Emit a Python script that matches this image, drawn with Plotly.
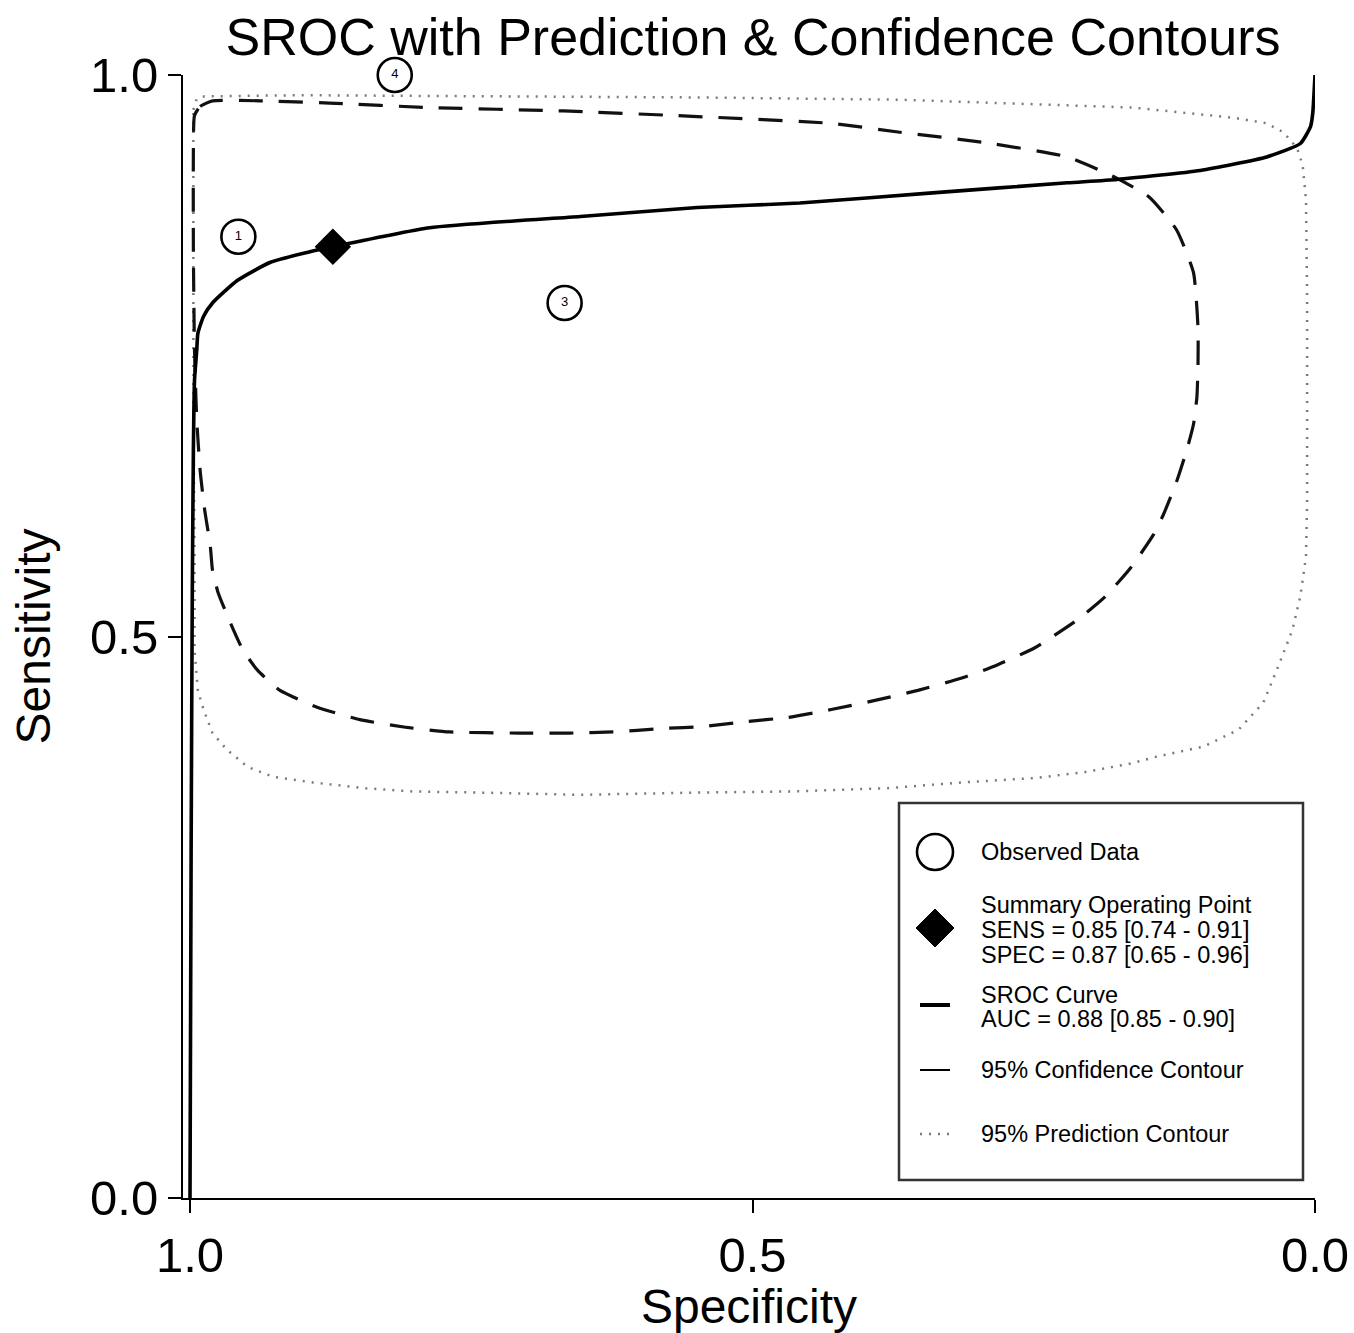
import plotly.graph_objects as go

# ---------------- data ----------------
sroc_spec = [0.000, 0.002, 0.004, 0.013, 0.043, 0.102, 0.176, 0.220, 0.340, 0.458,
             0.549, 0.653, 0.787, 0.873, 0.900, 0.929, 0.958, 0.980, 0.988, 0.993,
             0.994, 0.996, 0.997, 0.998, 0.999, 1.000]
sroc_sens = [1.000, 0.966, 0.954, 0.939, 0.927, 0.915, 0.907, 0.904, 0.895, 0.886,
             0.882, 0.874, 0.864, 0.847, 0.841, 0.833, 0.817, 0.797, 0.785, 0.770,
             0.755, 0.728, 0.666, 0.532, 0.310, 0.000]

conf_spec = [0.996, 0.991, 0.980, 0.938, 0.876, 0.787, 0.668, 0.549, 0.431, 0.369,
             0.295, 0.220, 0.176, 0.147, 0.123, 0.108, 0.104, 0.104, 0.105, 0.108,
             0.114, 0.123, 0.135, 0.144, 0.164, 0.187, 0.211, 0.249, 0.284, 0.314,
             0.353, 0.396, 0.430, 0.468, 0.508, 0.542, 0.581, 0.624, 0.663, 0.707,
             0.769, 0.807, 0.849, 0.887, 0.920, 0.940, 0.953, 0.964, 0.975, 0.980,
             0.982, 0.987, 0.991, 0.994, 0.996, 0.997, 0.997, 0.996]
conf_sens = [0.964, 0.972, 0.977, 0.977, 0.975, 0.971, 0.968, 0.963, 0.957, 0.949,
             0.940, 0.927, 0.908, 0.891, 0.862, 0.824, 0.775, 0.741, 0.713, 0.689,
             0.666, 0.638, 0.608, 0.590, 0.561, 0.535, 0.515, 0.490, 0.474, 0.463,
             0.452, 0.442, 0.435, 0.428, 0.424, 0.420, 0.418, 0.415, 0.414, 0.414,
             0.415, 0.419, 0.426, 0.437, 0.452, 0.470, 0.488, 0.512, 0.539, 0.559,
             0.581, 0.613, 0.648, 0.693, 0.755, 0.844, 0.933, 0.964]

pred_spec = [0.997, 0.994, 0.987, 0.902, 0.724, 0.547, 0.369, 0.280, 0.162, 0.073,
             0.043, 0.028, 0.016, 0.011, 0.008, 0.007, 0.007, 0.007, 0.008, 0.013,
             0.020, 0.034, 0.046, 0.068, 0.099, 0.141, 0.163, 0.206, 0.249, 0.314,
             0.379, 0.465, 0.551, 0.653, 0.742, 0.802, 0.846, 0.891, 0.926, 0.949,
             0.967, 0.980, 0.988, 0.993, 0.996, 0.996, 0.997, 0.997, 0.997]
pred_sens = [0.969, 0.979, 0.981, 0.982, 0.981, 0.980, 0.978, 0.975, 0.971, 0.962,
             0.957, 0.949, 0.935, 0.920, 0.889, 0.800, 0.711, 0.622, 0.571, 0.536,
             0.506, 0.470, 0.441, 0.417, 0.402, 0.393, 0.387, 0.379, 0.374, 0.370,
             0.365, 0.362, 0.361, 0.359, 0.361, 0.362, 0.365, 0.370, 0.375, 0.384,
             0.399, 0.414, 0.435, 0.452, 0.488, 0.577, 0.711, 0.844, 0.969]

obs_spec = [0.957, 0.667, 0.818]
obs_sens = [0.856, 0.797, 1.000]
obs_labels = ["1", "3", "4"]

summary_spec = [0.873]
summary_sens = [0.847]

tick_vals = [0.0, 0.5, 1.0]
tick_text = ["0.0", "0.5", "1.0"]

title_text = "SROC with Prediction &amp; Confidence Contours"
legend_observed = "Observed Data"
legend_summary = ["Summary Operating Point", "SENS = 0.85 [0.74 - 0.91]", "SPEC = 0.87 [0.65 - 0.96]"]
legend_sroc = ["SROC Curve", "AUC = 0.88 [0.85 - 0.90]"]
legend_conf = "95% Confidence Contour"
legend_pred = "95% Prediction Contour"

# ---------------- layout geometry ----------------
W, H = 1354, 1333
ML, MR, MT, MB = 183, 39, 75, 135
PW, PH = W - ML - MR, H - MT - MB
FONT = "Liberation Sans, Arial, Helvetica, sans-serif"
DOT = "2px,7px"
PRED_COLOR = "#7a7a7a"


def PX(p):
    return (p - ML) / PW


def PY(p):
    return (H - MB - p) / PH


fig = go.Figure()

fig.add_trace(go.Scatter(x=pred_spec, y=pred_sens, mode="lines",
                         line=dict(color=PRED_COLOR, width=2.5, dash=DOT),
                         showlegend=False, hoverinfo="skip"))
fig.add_trace(go.Scatter(x=conf_spec, y=conf_sens, mode="lines",
                         line=dict(color="#111111", width=3.2, dash="24px,16px", shape="spline", smoothing=0.5),
                         showlegend=False, hoverinfo="skip"))
fig.add_trace(go.Scatter(x=sroc_spec, y=sroc_sens, mode="lines",
                         line=dict(color="#000000", width=3.6, shape="spline", smoothing=0.5),
                         showlegend=False))
fig.add_trace(go.Scatter(x=obs_spec, y=obs_sens, mode="markers+text", text=obs_labels,
                         textposition="middle center",
                         textfont=dict(size=13, color="#000000", family=FONT),
                         marker=dict(symbol="circle-open", size=34, color="#000000",
                                     line=dict(width=2.6, color="#000000")),
                         cliponaxis=False, showlegend=False))
fig.add_trace(go.Scatter(x=summary_spec, y=summary_sens, mode="markers",
                         marker=dict(symbol="diamond", size=28, color="#000000"),
                         cliponaxis=False, showlegend=False))

# ---------------- manual legend ----------------
shapes = []
annotations = []
shapes.append(dict(type="rect", xref="paper", yref="paper",
                   x0=PX(899), x1=PX(1303), y0=PY(1180), y1=PY(803),
                   line=dict(color="#333333", width=2.5), fillcolor="white", layer="above"))
r = 18
shapes.append(dict(type="circle", xref="paper", yref="paper",
                   x0=PX(935 - r), x1=PX(935 + r), y0=PY(852 + r), y1=PY(852 - r),
                   line=dict(color="#000000", width=2.6), layer="above"))
d = 19
shapes.append(dict(type="path", xref="paper", yref="paper",
                   path=f"M {PX(935)},{PY(928 - d)} L {PX(935 + d)},{PY(928)} L {PX(935)},{PY(928 + d)} L {PX(935 - d)},{PY(928)} Z",
                   fillcolor="#000000", line=dict(color="#000000", width=1), layer="above"))
shapes.append(dict(type="line", xref="paper", yref="paper",
                   x0=PX(920), x1=PX(950), y0=PY(1005), y1=PY(1005),
                   line=dict(color="#000000", width=4), layer="above"))
shapes.append(dict(type="line", xref="paper", yref="paper",
                   x0=PX(920), x1=PX(950), y0=PY(1070), y1=PY(1070),
                   line=dict(color="#000000", width=2), layer="above"))
shapes.append(dict(type="line", xref="paper", yref="paper",
                   x0=PX(920), x1=PX(950), y0=PY(1134), y1=PY(1134),
                   line=dict(color=PRED_COLOR, width=2.5, dash=DOT), layer="above"))


def legend_text(txt, py):
    annotations.append(dict(text=txt, xref="paper", yref="paper", x=PX(979), y=PY(py),
                            xanchor="left", yanchor="middle", showarrow=False,
                            font=dict(size=23.5, color="#000000", family=FONT)))


legend_text(legend_observed, 852)
for t, py in zip(legend_summary, [905, 930, 955]):
    legend_text(t, py)
for t, py in zip(legend_sroc, [995, 1019]):
    legend_text(t, py)
legend_text(legend_conf, 1070)
legend_text(legend_pred, 1134)

fig.update_layout(
    width=W, height=H, autosize=False,
    margin=dict(l=ML, r=MR, t=MT, b=MB, pad=0),
    paper_bgcolor="white", plot_bgcolor="white",
    font=dict(family=FONT, color="#000000"),
    title=dict(text=title_text, x=PX(753), xref="paper", xanchor="center",
               y=1 - 37 / H, yref="container", yanchor="middle",
               font=dict(size=52, family=FONT, color="#000000")),
    xaxis=dict(range=[1 + 7 / 1125, 0], tickvals=tick_vals, ticktext=tick_text,
               automargin=False,
               showgrid=False, zeroline=False, showline=True, linecolor="#000000", linewidth=2,
               ticks="outside", ticklen=13, tickwidth=2, tickcolor="#000000",
               tickfont=dict(size=49, family=FONT, color="#000000"),
               title=dict(text="Specificity", font=dict(size=48, family=FONT, color="#000000"), standoff=4)),
    yaxis=dict(range=[0, 1], tickvals=tick_vals, ticktext=tick_text,
               automargin=False,
               showgrid=False, zeroline=False, showline=True, linecolor="#000000", linewidth=2,
               ticks="outside", ticklen=13, tickwidth=2, tickcolor="#000000",
               tickfont=dict(size=49, family=FONT, color="#000000"),
               title=dict(text="Sensitivity", font=dict(size=48, family=FONT, color="#000000"), standoff=24)),
    shapes=shapes, annotations=annotations,
    showlegend=False,
)

fig.write_html("out.html")
